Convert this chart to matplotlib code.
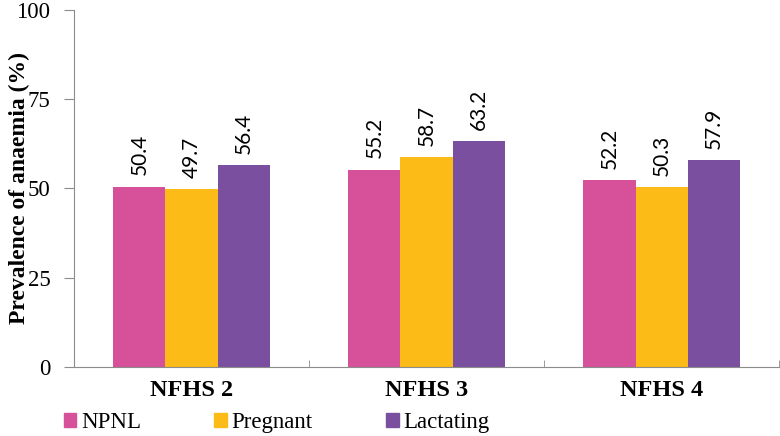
import numpy as np
import matplotlib
matplotlib.use('Agg')
import matplotlib.pyplot as plt
from matplotlib.patches import Patch

rounds = ['NFHS 2', 'NFHS 3', 'NFHS 4']
groups = ['NPNL', 'Pregnant', 'Lactating']
npnl = [50.4, 55.2, 52.2]
pregnant = [49.7, 58.7, 50.3]
lactating = [56.4, 63.2, 57.9]
yticks = [0, 25, 50, 75, 100]

C_NPNL = '#D6519A'; C_PREG = '#FCBB16'; C_LACT = '#7B4F9F'; C_AX = '#8C8C8C'
SERIF = 'Liberation Serif'

fig = plt.figure(figsize=(7.8, 4.36), dpi=100, facecolor='white')
ax = fig.add_axes([0.0949, 0.158, 0.904, 0.820])

x = np.arange(len(rounds))
w = 0.222
series = [(npnl, C_NPNL), (pregnant, C_PREG), (lactating, C_LACT)]
for i, (vals, col) in enumerate(series):
    xs = x + (i - 1) * w
    ax.bar(xs, vals, w, color=col, edgecolor='none')
    for xv, v in zip(xs, vals):
        ax.text(xv, v + 3.2, f'{v:.1f}', rotation=90, ha='center', va='bottom',
                fontsize=15, family='Lato', color='black')

ax.set_xlim(-0.5, len(rounds) - 0.5)
ax.set_ylim(0, 100)
ax.set_yticks(yticks)
ax.set_yticklabels([str(t) for t in yticks], family=SERIF, fontsize=16.5)
ax.set_xticks(x)
ax.set_xticklabels(rounds, family=SERIF, fontsize=17.5, fontweight='bold')
ax.tick_params(axis='x', length=0, pad=9)
ax.set_xticks(np.arange(0.5, len(rounds) - 0.4, 1.0), minor=True)
ax.tick_params(axis='x', which='minor', length=5, color=C_AX, direction='in')
ax.tick_params(axis='y', length=7, color=C_AX, direction='out', pad=10)
ax.set_ylabel('Prevalence of anaemia (%)', family=SERIF, fontsize=17,
              fontweight='bold', va='center')
ax.yaxis.set_label_coords(-0.078, 0.5)
for s in ['top', 'right']:
    ax.spines[s].set_visible(False)
for s in ['left', 'bottom']:
    ax.spines[s].set_color(C_AX)

handles = [Patch(color=c) for _, c in series]
fig.legend(handles, groups, loc='lower left', bbox_to_anchor=(0.07, -0.015),
           ncol=3, frameon=False, prop={'family': SERIF, 'size': 16.5},
           handlelength=0.55, handleheight=0.55, handletextpad=0.2,
           columnspacing=3.2, borderaxespad=0)

fig.savefig('out.png', dpi=100, facecolor='white')
